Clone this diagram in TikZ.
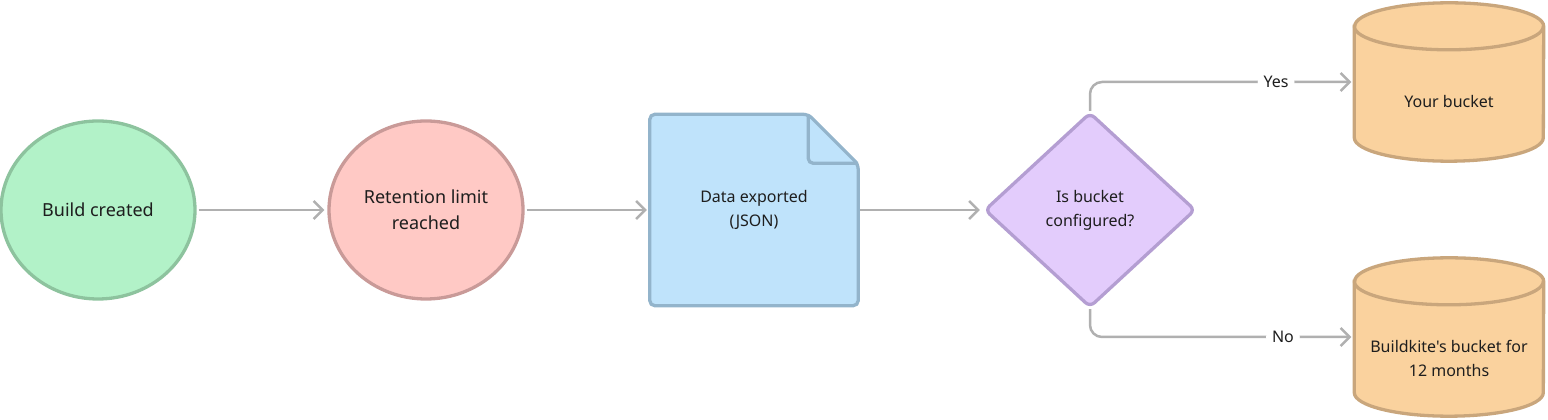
\documentclass[tikz,border=0pt]{standalone}
\usepackage{fontspec}
\setmainfont{Noto Sans}[Ligatures=TeXOff]
\usetikzlibrary{arrows.meta,shapes.geometric,backgrounds}

\definecolor{inkgray}{HTML}{1E1E1E}
\definecolor{linegray}{HTML}{B0B0B0}
\definecolor{greenfill}{HTML}{B2F2C8}
\definecolor{greenline}{HTML}{8DC39E}
\definecolor{pinkfill}{HTML}{FFC9C5}
\definecolor{pinkline}{HTML}{C99A98}
\definecolor{bluefill}{HTML}{BFE3FB}
\definecolor{blueline}{HTML}{93B4CB}
\definecolor{purplefill}{HTML}{E3CCFC}
\definecolor{purpleline}{HTML}{B49ED2}
\definecolor{orangefill}{HTML}{FAD29E}
\definecolor{orangeline}{HTML}{C9A67C}

\tikzset{
  bigtext/.style={font=\fontsize{18}{26}\selectfont, text=inkgray, align=center},
  smalltext/.style={font=\fontsize{16}{24}\selectfont, text=inkgray, align=center},
  roundnode/.style={ellipse, line width=3.3pt, minimum width=194pt, minimum height=178pt, inner sep=0pt, bigtext},
  docbox/.style={draw=blueline, fill=bluefill, line width=3.3pt, rounded corners=5pt},
  decision/.style={diamond, draw=purpleline, fill=purplefill, line width=3.3pt, rounded corners=6pt,
    minimum width=211pt, minimum height=195pt, inner sep=0pt, smalltext},
  bucket/.style={minimum width=189pt, minimum height=158pt, inner sep=0pt},
  bucketline/.style={draw=orangeline, fill=orangefill, line width=3.3pt},
  flow/.style={draw=linegray, line width=2.5pt, -{Straight Barb[length=9pt,width=18pt]},
    shorten <=2pt, shorten >=3pt},
  choice/.style={fill=white, inner sep=6pt, smalltext}
}

\begin{document}
\begin{tikzpicture}[x=1pt, y=1pt]
\useasboundingbox (0,0) rectangle (1548,420);

\node[roundnode, draw=greenline, fill=greenfill] (build) at (98,210) {Build created};
\node[roundnode, draw=pinkline, fill=pinkfill] (limit) at (426,210) {Retention limit\\reached};
\node[smalltext, minimum width=208pt, minimum height=191pt, inner sep=0pt] (data) at (754,210) {Data exported\\(JSON)};
\node[decision] (check) at (1090,210) {Is bucket\\configured?};
\node[bucket] (yours) at (1449,338) {};
\node[smalltext] (yourstext) at ([yshift=-20pt]yours.center) {Your bucket};
\node[bucket] (ours) at (1449,83) {};
\node[smalltext] (ourstext) at ([yshift=-21pt]ours.center) {Buildkite's bucket for\\12 months};

\begin{scope}[on background layer]
% document with folded corner
\draw[docbox] (data.south west) -- (data.north west) -- ([xshift=-50pt]data.north east)
  -- ([yshift=-50pt]data.north east) -- (data.south east) -- cycle;
\draw[docbox, fill=none] ([xshift=-50pt]data.north east) -- ([xshift=-50pt,yshift=-49pt]data.north east)
  -- ([yshift=-49pt]data.north east);
% buckets
\foreach \b in {yours, ours} {
  \draw[bucketline] ([yshift=-23.5pt]\b.north west) -- ([yshift=23.5pt]\b.south west)
    arc[start angle=180, end angle=360, x radius=94.5pt, y radius=23.5pt]
    -- ([yshift=-23.5pt]\b.north east)
    arc[start angle=0, end angle=180, x radius=94.5pt, y radius=23.5pt] -- cycle;
  \draw[bucketline, fill=none] ([yshift=-23.5pt]\b.north west)
    arc[start angle=180, end angle=360, x radius=94.5pt, y radius=23.5pt];
}
\end{scope}

\draw[flow] (build) -- (limit);
\draw[flow] (limit) -- (data);
\draw[flow] (data) -- (check);
\draw[flow, shorten <=0pt, rounded corners=12pt] (check.north) |- node[choice, pos=0.852] (yes) {Yes} (yours.west);
\draw[flow, shorten <=0pt, rounded corners=12pt] (check.south) |- node[choice, pos=0.865] (no) {No} (ours.west);
\end{tikzpicture}
\end{document}
